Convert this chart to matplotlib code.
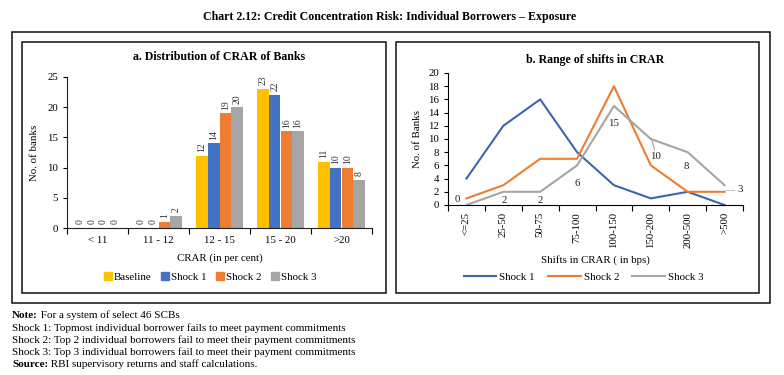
import numpy as np
import matplotlib
matplotlib.use("Agg")
import matplotlib.pyplot as plt
from matplotlib.patches import Rectangle

plt.rcParams['font.family'] = ['Liberation Serif', 'DejaVu Serif']

# panel a data
crar_bins = ['< 11', '11 - 12', '12 - 15', '15 - 20', '>20']
baseline = [0, 0, 12, 23, 11]
shock1 = [0, 0, 14, 22, 10]
shock2 = [0, 1, 19, 16, 10]
shock3 = [0, 2, 20, 16, 8]

# panel b data
shift_bins = ['<=25', '25-50', '50-75', '75-100', '100-150', '150-200', '200-500', '>500']
shift_s1 = [4, 12, 16, 8, 3, 1, 2, 0]
shift_s2 = [1, 3, 7, 7, 18, 6, 2, 2]
shift_s3 = [0, 2, 2, 6, 15, 10, 8, 3]

bar_cols = ['#FFC000', '#4472C4', '#ED7D31', '#A5A5A5']
line_cols = ['#3A68AE', '#ED7D31', '#A5A5A5']
W, H = 784, 375

fig = plt.figure(figsize=(W / 100, H / 100), dpi=100)

def px_axes(x0, y0, x1, y1):
    return fig.add_axes([x0 / W, 1 - y1 / H, (x1 - x0) / W, (y1 - y0) / H])

# frames
def box(x0, y0, x1, y1):
    fig.add_artist(Rectangle((x0 / W, 1 - y1 / H), (x1 - x0) / W, (y1 - y0) / H,
                             transform=fig.transFigure, fill=False, lw=1.1, ec='#111111'))

box(11.5, 31.5, 770, 303)
box(22, 42, 386, 293)
box(396, 42, 759, 293)

fig.text(390 / W, 1 - 17 / H, 'Chart 2.12: Credit Concentration Risk: Individual Borrowers \u2013 Exposure',
         ha='center', va='center', fontsize=8.6, fontweight='bold')

# ---- panel a ----
ax = px_axes(67, 77, 372, 228)
x = np.arange(len(crar_bins))
bw = 0.19
series = [baseline, shock1, shock2, shock3]
names = ['Baseline', 'Shock 1', 'Shock 2', 'Shock 3']
for i, (vals, c) in enumerate(zip(series, bar_cols)):
    pos = x + (i - 1.5) * bw
    ax.bar(pos, vals, bw, color=c, label=names[i])
    for j, (p, v) in enumerate(zip(pos, vals)):
        if v == 0 and j == 1 and i > 1:
            continue
        ax.text(p, v + 0.6, str(v), rotation=90, ha='center', va='bottom', fontsize=7, color='#333333')
ax.set_ylim(0, 25)
ax.set_xlim(-0.5, 4.5)
ax.set_yticks([0, 5, 10, 15, 20, 25])
ax.set_xticks(np.arange(-0.5, 5, 1))
ax.set_xticklabels([])
ax.set_xticks(x, minor=True)
ax.set_xticklabels(crar_bins, minor=True)
ax.tick_params(axis='x', which='major', length=4, width=0.8)
ax.tick_params(axis='x', which='minor', length=0, pad=6, labelsize=7.8)
ax.tick_params(axis='y', length=3, width=0.8, labelsize=7.8)
for s in ['top', 'right']:
    ax.spines[s].set_visible(False)
ax.spines['left'].set_color('#222222')
ax.spines['bottom'].set_color('#222222')
ax.set_ylabel('No. of banks', fontsize=7.8, labelpad=6)
ax.set_title('a. Distribution of CRAR of Banks', fontsize=8.6, fontweight='bold', pad=12)
ax.set_xlabel('CRAR (in per cent)', fontsize=7.8, labelpad=6)
handles = [Rectangle((0, 0), 1, 1, color=c) for c in bar_cols]
ax.legend(handles, names, loc='center', bbox_to_anchor=(0.47, -0.325), ncol=4, frameon=False,
          fontsize=7.8, handlelength=0.7, handleheight=0.7, handletextpad=0.2, columnspacing=0.9,
          borderaxespad=0, borderpad=0)

# ---- panel b ----
bx = px_axes(448, 73, 743, 205)
xb = np.arange(len(shift_bins))
for vals, c, n in zip([shift_s1, shift_s2, shift_s3], line_cols, ['Shock 1', 'Shock 2', 'Shock 3']):
    bx.plot(xb, vals, color=c, lw=1.5, label=n)
lab_pos = [(-0.25, 0.8), (1.03, 0.7), (2.0, 0.7), (3.0, 3.3), (4.0, 12.3), (5.13, 7.3), (5.97, 5.8), (7.42, 2.3)]
for v, (lx, ly) in zip(shift_s3, lab_pos):
    bx.text(lx, ly, str(v), ha='center', va='center', fontsize=7.8, color='#222222')
bx.plot([5.03, 5.1], [9.8, 8.4], color='#A5A5A5', lw=0.8)
bx.plot([7.02, 7.25], [2.3, 2.3], color='#C8C8C8', lw=0.8)
bx.set_ylim(0, 20)
bx.set_xlim(-0.5, 7.5)
bx.set_yticks(np.arange(0, 21, 2))
bx.set_xticks(np.arange(-0.5, 8, 1))
bx.set_xticklabels([])
bx.set_xticks(xb, minor=True)
bx.set_xticklabels(shift_bins, minor=True, rotation=90)
bx.tick_params(axis='x', which='major', length=4, width=0.8)
bx.tick_params(axis='x', which='minor', length=0, pad=5, labelsize=7.8)
bx.tick_params(axis='y', length=3, width=0.8, labelsize=7.8)
for s in ['top', 'right']:
    bx.spines[s].set_visible(False)
bx.set_ylabel('No. of Banks', fontsize=7.8, labelpad=4)
bx.set_title('b. Range of shifts in CRAR', fontsize=8.6, fontweight='bold', pad=7)
bx.set_xlabel('Shifts in CRAR ( in bps)', fontsize=7.8, labelpad=5)
bx.legend(loc='center', bbox_to_anchor=(0.46, -0.545), ncol=3, frameon=False,
          fontsize=7.8, handlelength=3.0, handletextpad=0.3, columnspacing=1.2,
          borderaxespad=0, borderpad=0)

notes = [
    ('Note:', ' For a system of select 46 SCBs'),
    ('', 'Shock 1: Topmost individual borrower fails to meet payment commitments'),
    ('', 'Shock 2: Top 2 individual borrowers fail to meet their payment commitments'),
    ('', 'Shock 3: Top 3 individual borrowers fail to meet their payment commitments'),
    ('Source:', ' RBI supervisory returns and staff calculations.'),
]
y = 318.5
for head, rest in notes:
    x0 = 12
    if head:
        t = fig.text(x0 / W, 1 - y / H, head, fontsize=8, fontweight='bold', va='baseline')
        fig.canvas.draw()
        x0 = t.get_window_extent().x1
    fig.text(x0 / W, 1 - y / H, rest, fontsize=8, va='baseline')
    y += 12.1

fig.savefig('out.png', dpi=100)
